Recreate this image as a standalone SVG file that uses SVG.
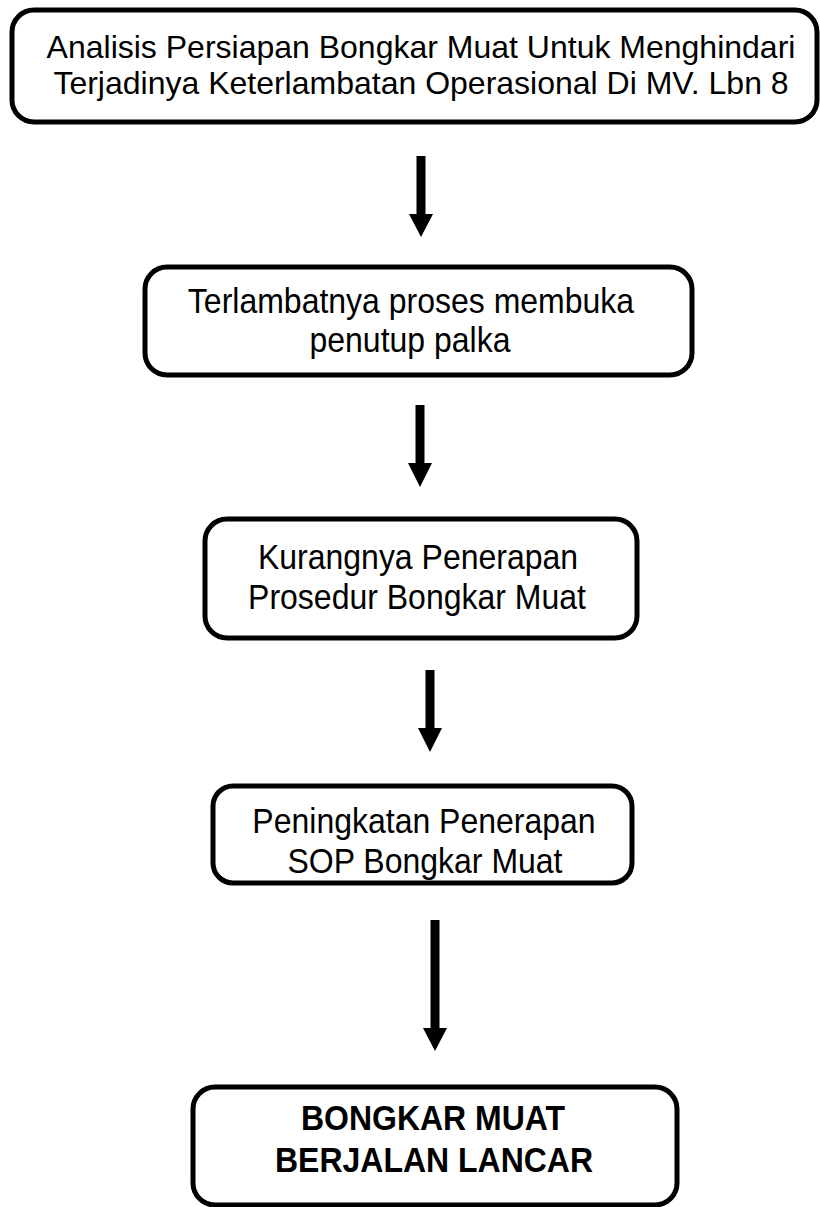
<svg xmlns="http://www.w3.org/2000/svg" width="820" height="1207" viewBox="0 0 820 1207">
<style>
.box{fill:#fff;stroke:#000;stroke-width:5}
.t{font-family:"Liberation Sans",Arial,sans-serif;font-size:32px;fill:#000;text-anchor:middle}
.b{font-weight:bold}
.arr{fill:#000;stroke:none}
</style>
<rect width="820" height="1207" fill="#fff"/>
<g id="node1">
<rect class="box" x="12" y="10" width="805" height="112" rx="22" ry="22"/>
<text class="t" x="421" y="58">Analisis Persiapan Bongkar Muat Untuk Menghindari</text>
<text class="t" x="421" y="94">Terjadinya Keterlambatan Operasional Di MV. Lbn 8</text>
</g>
<g id="node2">
<rect class="box" x="145" y="267" width="547" height="108" rx="22" ry="22"/>
<text class="t" transform="translate(411 313) scale(1 1.1)">Terlambatnya proses membuka</text>
<text class="t" transform="translate(410 352) scale(1 1.1)">penutup palka</text>
</g>
<g id="node3">
<rect class="box" x="205" y="519" width="432" height="119" rx="22" ry="22"/>
<text class="t" transform="translate(418 569) scale(1 1.1)">Kurangnya Penerapan</text>
<text class="t" transform="translate(417 609) scale(1 1.1)">Prosedur Bongkar Muat</text>
</g>
<g id="node4">
<rect class="box" x="213" y="786" width="419" height="97" rx="20" ry="20"/>
<text class="t" transform="translate(424 833) scale(1 1.1)">Peningkatan Penerapan</text>
<text class="t" transform="translate(425 873) scale(1 1.1)">SOP Bongkar Muat</text>
</g>
<g id="node5">
<rect class="box" x="193" y="1087" width="484" height="118" rx="22" ry="22"/>
<text class="t b" transform="translate(433 1130) scale(1 1.1)">BONGKAR MUAT</text>
<text class="t b" transform="translate(434 1172) scale(1 1.1)">BERJALAN LANCAR</text>
</g>
<g id="connectors">
<path class="arr" d="M416.5 156 H425.5 V214 H433 L421 237 L409 214 H416.5 Z"/>
<path class="arr" d="M415.5 405 H424.5 V463 H432 L420 487 L408 463 H415.5 Z"/>
<path class="arr" d="M425.5 670 H434.5 V728 H442 L430 752 L418 728 H425.5 Z"/>
<path class="arr" d="M430.5 920 H439.5 V1028 H447 L435 1051 L423 1028 H430.5 Z"/>
</g>
</svg>
